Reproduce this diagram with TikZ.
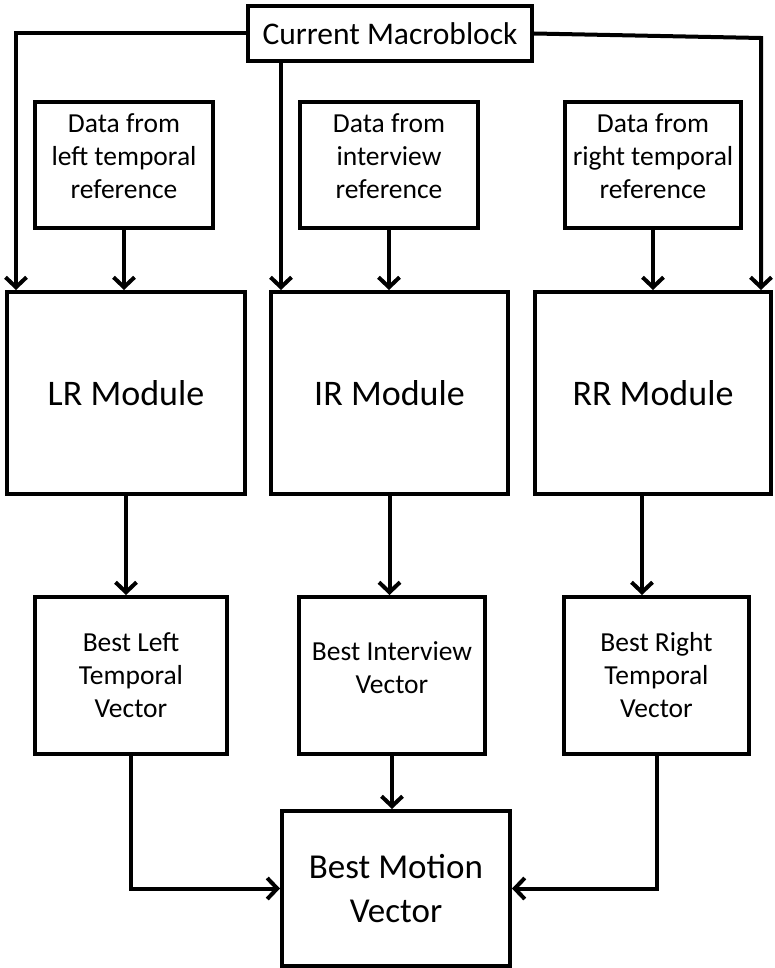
\documentclass[tikz,border=0pt]{standalone}
\usepackage{fontspec}
\setmainfont{Carlito}
\usetikzlibrary{arrows.meta}

\tikzset{
  box/.style={draw=black, line width=4pt, rectangle, inner sep=0pt,
    align=center, text=black},
  databox/.style={box, minimum height=126pt, text depth=18pt,
    font=\fontsize{27.5}{33}\selectfont},
  modbox/.style={box, minimum height=202pt,
    font=\fontsize{36}{44}\selectfont},
  resbox/.style={box, minimum height=157pt,
    font=\fontsize{27.5}{33}\selectfont},
  flow/.style={draw=black, line width=4pt,
    -{Straight Barb[length=10pt, width=21pt]}}
}

\begin{document}
\begin{tikzpicture}[x=1pt, y=-1pt]
  \useasboundingbox (0,0) rectangle (774,968);

  % input macroblock
  \node[box, minimum width=284pt, minimum height=55pt,
        font=\fontsize{31.5}{38}\selectfont] (cm) at (390,33.5) {Current Macroblock};

  % reference data sources
  \node[databox, minimum width=178pt] (dl) at (124,165)
        {Data from\\left temporal\\reference};
  \node[databox, minimum width=178pt] (di) at (389,165)
        {Data from\\interview\\reference};
  \node[databox, minimum width=176pt] (dr) at (653,165)
        {Data from\\right temporal\\reference};

  % search modules
  \node[modbox, minimum width=238pt] (lr) at (126,393) {LR Module};
  \node[modbox, minimum width=237pt] (ir) at (389.5,393) {IR Module};
  \node[modbox, minimum width=236pt] (rr) at (653,393) {RR Module};

  % per-module results
  \node[resbox, minimum width=192pt] (bl) at (131,675.5)
        {Best Left\\Temporal\\Vector};
  \node[resbox, minimum width=186pt, text depth=16pt] (bi) at (392,675.5)
        {Best Interview\\Vector};
  \node[resbox, minimum width=185pt] (br) at (656.5,675.5)
        {Best Right\\Temporal\\Vector};

  % final decision
  \node[box, minimum width=228pt, minimum height=155pt,
        font=\fontsize{35}{44}\selectfont] (bm) at (396,888.5)
        {Best Motion\\Vector};

  % macroblock distribution
  \coordinate (lin) at (16,0);
  \coordinate (iin) at (281,0);
  \coordinate (rin) at (761,38);
  \draw[flow] (cm.west) -| (lin |- lr.north);
  \draw[flow] (iin |- cm.south) -- (iin |- ir.north);
  \draw[flow] (cm.east) -- (rin) -- (rin |- rr.north);

  % reference data into modules
  \draw[flow] (dl.south) -- (dl.south |- lr.north);
  \draw[flow] (di.south) -- (di.south |- ir.north);
  \draw[flow] (dr.south) -- (dr.south |- rr.north);

  % module outputs
  \coordinate (rout) at (642,0);
  \draw[flow] (lr.south) -- (lr.south |- bl.north);
  \draw[flow] (ir.south) -- (ir.south |- bi.north);
  \draw[flow] (rout |- rr.south) -- (rout |- br.north);

  % gather into the final vector
  \draw[flow] (bl.south) |- (bm.west);
  \draw[flow] (bi.south) -- (bi.south |- bm.north);
  \draw[flow] (br.south) |- (bm.east);
\end{tikzpicture}
\end{document}
